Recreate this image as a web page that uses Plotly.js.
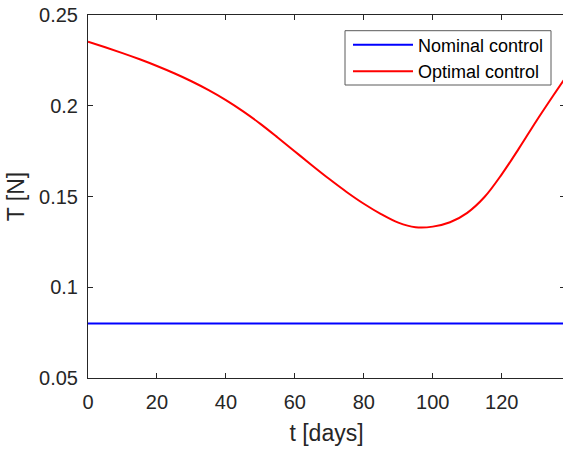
<!DOCTYPE html>
<html>
<head>
<meta charset="utf-8">
<script src="https://cdn.plot.ly/plotly-3.0.1.min.js"></script>
<style>html,body{margin:0;padding:0;background:#fff;overflow:hidden;}#chart{width:565px;height:450px;}</style>
</head>
<body>
<div id="chart"></div>
<script>
// Data
var tNominal = [0, 138.3];
var thrustNominal = [0.08, 0.08];

var tOptimal = [0, 5, 10, 15, 20, 25, 30, 35, 40, 45, 50, 55, 60, 65, 70, 75, 80, 85, 90, 95, 100, 105, 110, 115, 120, 125, 130, 135, 138.3];
var thrustOptimal = [0.2353, 0.2322, 0.2290, 0.2256, 0.2219, 0.2179, 0.2135, 0.2086, 0.2031, 0.1969, 0.1900, 0.1825, 0.1748, 0.1671, 0.1596, 0.1525, 0.1460, 0.1403, 0.1356, 0.1331, 0.1334, 0.1358, 0.1410, 0.1497, 0.1622, 0.1765, 0.1915, 0.2058, 0.2150];

var seriesNames = ["Nominal control", "Optimal control"];
var xTitle = "t [days]";
var yTitle = "T [N]";

var fontFam = "Liberation Sans, Arial, Helvetica, sans-serif";
var txt = "#262626";

var traces = [
  {x: tNominal, y: thrustNominal, mode: "lines", name: seriesNames[0],
   line: {color: "#0000ff", width: 2}},
  {x: tOptimal, y: thrustOptimal, mode: "lines", name: seriesNames[1],
   line: {color: "#ff0000", width: 2, shape: "spline", smoothing: 1}}
];

var axisCommon = {
  showline: true, linecolor: txt, linewidth: 1, mirror: "ticks",
  ticks: "inside", ticklen: 5, tickcolor: txt, tickwidth: 1,
  showgrid: false, zeroline: false,
  tickfont: {family: fontFam, size: 20, color: txt}
};

var layout = {
  width: 565, height: 450,
  margin: {l: 88, r: 0, t: 15, b: 72},
  paper_bgcolor: "#ffffff", plot_bgcolor: "#ffffff",
  showlegend: true,
  xaxis: Object.assign({}, axisCommon, {
    range: [0, 138.35], tick0: 0, dtick: 20, ticklabelstandoff: 6,
    title: {text: xTitle, font: {family: fontFam, size: 23, color: txt}, standoff: 12}
  }),
  yaxis: Object.assign({}, axisCommon, {
    range: [0.05, 0.25], tick0: 0.05, dtick: 0.05, ticklabelstandoff: 5,
    title: {text: yTitle, font: {family: fontFam, size: 23, color: txt}, standoff: 8}
  }),
  shapes: [{
    type: "rect", xref: "paper", yref: "paper", layer: "above",
    x0: (345 - 88) / 477, x1: (551 - 88) / 477,
    y0: 1 - (85 - 15) / 363, y1: 1 - (30.7 - 15) / 363,
    line: {color: "#5a5a5a", width: 1}, fillcolor: "#ffffff"
  }],
  legend: {
    x: (348 - 88) / 477, y: 0.968, xanchor: "left", yanchor: "top",
    bgcolor: "rgba(0,0,0,0)", borderwidth: 0,
    font: {family: fontFam, size: 18, color: "#000000"},
    itemwidth: 60, tracegroupgap: 0
  }
};

Plotly.newPlot("chart", traces, layout, {displayModeBar: false, staticPlot: true});
</script>
</body>
</html>
